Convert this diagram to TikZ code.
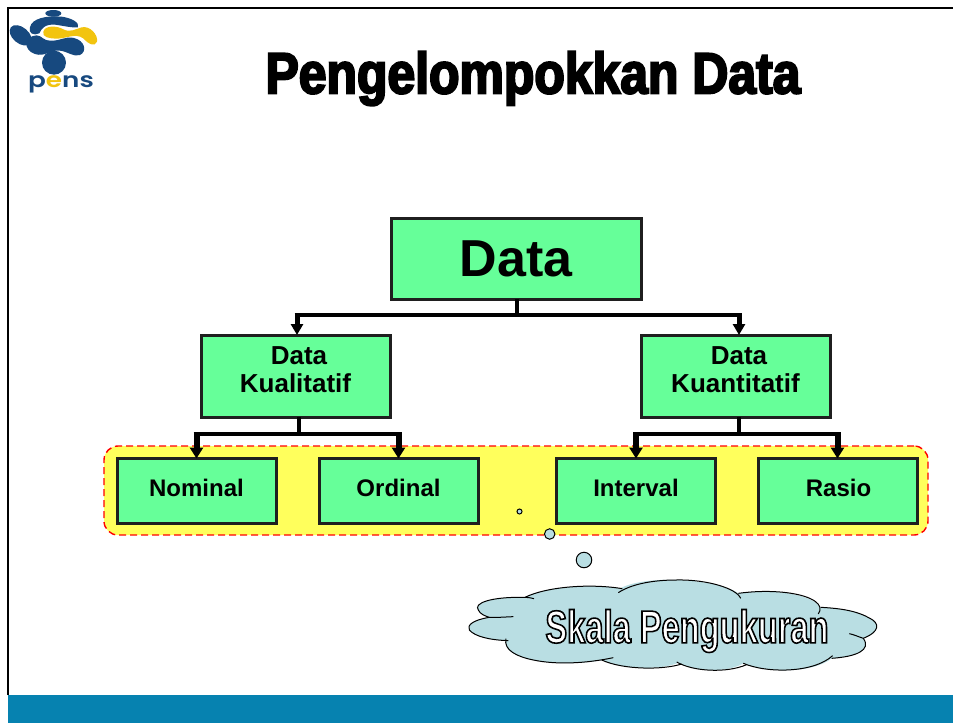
\documentclass[tikz,border=0pt]{standalone}
\usepackage{fontspec}
\setmainfont{Liberation Sans}
\newfontfamily\titlefont[FakeBold=3.6,FakeStretch=0.86]{Liberation Sans Bold}
\newfontfamily\skalafont[FakeBold=3.4,FakeStretch=0.71]{Liberation Sans Bold}
\newfontfamily\logofont[FakeStretch=1.25]{Poppins SemiBold}
\usetikzlibrary{positioning}
\usetikzlibrary{arrows.meta}

\definecolor{boxgreen}{HTML}{66FF99}
\definecolor{bandyellow}{HTML}{FFFF5C}
\definecolor{cloudblue}{HTML}{B9DEE3}
\definecolor{footerblue}{HTML}{0682B0}
\definecolor{logonavy}{HTML}{17497F}
\definecolor{logoyellow}{HTML}{F2C40F}

\tikzset{
	databox/.style={draw=black!88, fill=boxgreen, line width=3pt, outer sep=0pt, align=center, font=\bfseries},
	leafbox/.style={databox, minimum width=159pt, minimum height=65pt, font=\fontsize{24}{28}\bfseries\selectfont},
	midbox/.style={databox, minimum width=189pt, minimum height=82pt, font=\fontsize{26}{30}\bfseries\selectfont},
	stem/.style={line width=4pt},
	topstem/.style={line width=5pt, -{Triangle[length=11pt,width=12pt]}},
	leafstem/.style={line width=6pt, -{Triangle[length=11pt,width=13pt]}},
	bubble/.style={circle, draw=black, fill=cloudblue, line width=1pt, inner sep=0pt},
}

\begin{document}
\begin{tikzpicture}[x=1pt,y=-1pt]

	\useasboundingbox (0,0) rectangle (953,723);

	%Frame and footer
	\fill[white] (0,0) rectangle (953,723);
	\fill[footerblue] (8,695) rectangle (953,723);
	\draw[line width=2pt, black] (8,695) -- (8,8) -- (953,8);

	%Logo
	\begin{scope}[x=0.3333pt,y=-0.3333pt,logonavy]
		\fill (160,40) ellipse [x radius=24, y radius=10];
		\fill[rotate around={-40:(62,106)}] (62,106) ellipse [x radius=38, y radius=24];
		\fill (162,188) circle [radius=36];
		\fill (90,82) .. controls (95,55) and (140,46) .. (185,50) .. controls (215,54) and (240,68) .. (234,82) .. controls (215,84) and (195,78) .. (165,74) .. controls (135,72) and (125,85) .. (118,100) .. controls (100,108) and (85,100) .. (90,82) -- cycle;
		\fill (110,106) .. controls (130,108) and (125,122) .. (155,122) .. controls (185,122) and (195,108) .. (222,114) .. controls (255,122) and (262,155) .. (240,165) .. controls (220,172) and (205,155) .. (180,152) .. controls (150,148) and (135,172) .. (105,162) .. controls (68,150) and (72,108) .. (110,106) -- cycle;
		\fill[logoyellow] (130,95) .. controls (135,76) and (170,76) .. (190,88) .. controls (210,98) and (225,88) .. (245,82) .. controls (270,76) and (295,105) .. (291,125) .. controls (285,142) and (265,132) .. (250,115) .. controls (225,98) and (200,116) .. (170,116) .. controls (150,116) and (125,112) .. (130,95) -- cycle;
	\end{scope}
	\node[inner sep=0pt, font=\logofont\fontsize{21}{21}\selectfont, text=logonavy] (LogoText) at (61,84) {p\textcolor{logoyellow}{e}ns};

	%Title
	\node[inner sep=0pt, font=\titlefont\fontsize{58}{64}\selectfont] (Title) at (533,78.5) {Pengelompokkan Data};

	%Band behind the lowest level
	\node[draw=red, dashed, dash pattern=on 7pt off 4pt, fill=bandyellow, line width=1.4pt, rounded corners=14pt, minimum width=824pt, minimum height=89pt] (Band) at (516,490.5) {};

	%Boxes
	\node[databox, minimum width=250pt, minimum height=81pt, font=\fontsize{52}{56}\bfseries\selectfont] (Data) at (516,258.5) {\raisebox{-3pt}{Data}};
	\node[midbox] (Kual) at (295.5,376) {\raisebox{12pt}{\shortstack{\hspace{7pt}Data\\[6pt]Kualitatif}}};
	\node[midbox] (Kuan) at (735.5,376) {\raisebox{12pt}{\shortstack{\hspace{7pt}Data\\[6pt]Kuantitatif}}};
	\node[leafbox] (Nominal) at (196.5,491) {\raisebox{6pt}{Nominal}};
	\node[leafbox] (Ordinal) at (398.5,491) {\raisebox{6pt}{Ordinal}};
	\node[leafbox] (Interval) at (636,491) {\raisebox{6pt}{Interval}};
	\node[leafbox] (Rasio) at (837.5,491) {\raisebox{6pt}{\hspace{2pt}Rasio}};

	%Connectors
	\coordinate (DataFork) at (517,315);
	\coordinate (KualFork) at (299,434);
	\coordinate (KuanFork) at (739,434);

	\draw[stem] (DataFork |- Data.south) -- (DataFork);
	\draw[stem, shorten <=-2.5pt, shorten >=-2.5pt] (297,315) -- (739,315);
	\draw[topstem] (297,315) -- ([xshift=1.5pt]Kual.north);
	\draw[topstem] (739,315) -- (KuanFork |- Kuan.north);

	\draw[stem] (KualFork |- Kual.south) -- (KualFork);
	\draw[stem, shorten <=-3pt, shorten >=-3pt] (KualFork -| Nominal.north) -- (KualFork -| Ordinal.north);
	\draw[leafstem] (KualFork -| Nominal.north) -- (Nominal.north);
	\draw[leafstem] (KualFork -| Ordinal.north) -- (Ordinal.north);

	\draw[stem] (KuanFork |- Kuan.south) -- (KuanFork);
	\draw[stem, shorten <=-3pt, shorten >=-3pt] (KuanFork -| Interval.north) -- (KuanFork -| Rasio.north);
	\draw[leafstem] (KuanFork -| Interval.north) -- (Interval.north);
	\draw[leafstem] (KuanFork -| Rasio.north) -- (Rasio.north);

	%Thought bubbles
	\node[bubble, minimum size=5pt] (BubbleA) at (519.5,511.5) {};
	\node[bubble, minimum size=10.5pt] (BubbleB) at (549.7,534) {};
	\node[bubble, minimum size=15.5pt] (BubbleC) at (584,560) {};

	%Cloud
	\begin{scope}[shift={(450,490)},x=0.3333pt,y=-0.3333pt,line width=1pt]
		\path[fill=cloudblue] (225,322) .. controls (120,320) and (70,340) .. (85,360) .. controls (90,372) and (105,378) .. (118,382) .. controls (70,390) and (50,405) .. (58,420) .. controls (75,440) and (120,450) .. (168,452) .. controls (160,480) and (200,500) .. (250,510) .. controls (320,525) and (410,520) .. (455,510) .. controls (520,540) and (640,540) .. (685,518) .. controls (730,545) and (830,550) .. (880,520) .. controls (950,550) and (1090,550) .. (1145,505) .. controls (1220,500) and (1265,480) .. (1240,445) .. controls (1290,425) and (1290,400) .. (1260,385) .. controls (1220,362) and (1170,355) .. (1110,352) .. controls (1090,315) and (980,295) .. (865,310) .. controls (810,270) and (600,250) .. (510,295) .. controls (420,280) and (290,290) .. (225,322) -- cycle;
		\draw (252,326) .. controls (240,323) and (232,322) .. (225,322) .. controls (120,320) and (70,340) .. (85,360) .. controls (90,372) and (105,378) .. (118,382) .. controls (140,383) and (165,381) .. (190,380);
		\draw (118,382) .. controls (70,390) and (50,405) .. (58,420) .. controls (75,440) and (120,450) .. (175,452);
		\draw (168,446) .. controls (160,480) and (200,500) .. (250,510) .. controls (320,525) and (410,520) .. (490,503);
		\draw (455,510) .. controls (520,540) and (640,540) .. (695,522);
		\draw (680,516) .. controls (730,545) and (830,550) .. (890,524);
		\draw (880,520) .. controls (950,550) and (1090,550) .. (1148,497);
		\draw (1145,505) .. controls (1220,500) and (1265,480) .. (1240,445) .. controls (1225,440) and (1212,434) .. (1198,431);
		\draw (1240,445) .. controls (1290,425) and (1290,400) .. (1260,385) .. controls (1220,362) and (1170,355) .. (1112,352);
		\draw (1105,372) .. controls (1125,345) and (1090,318) .. (1010,308) .. controls (960,302) and (910,304) .. (865,310);
		\draw (872,325) .. controls (860,295) and (770,268) .. (680,270) .. controls (600,270) and (540,285) .. (505,308);
		\draw (517,296) .. controls (420,280) and (290,290) .. (225,322);
	\end{scope}

	\node[inner sep=0pt, text=white, font=\skalafont\fontsize{46}{50}\selectfont] (Skala) at (687,631) {\special{pdf:code 0 0 0 RG}Skala Pengukuran};

\end{tikzpicture}
\end{document}
